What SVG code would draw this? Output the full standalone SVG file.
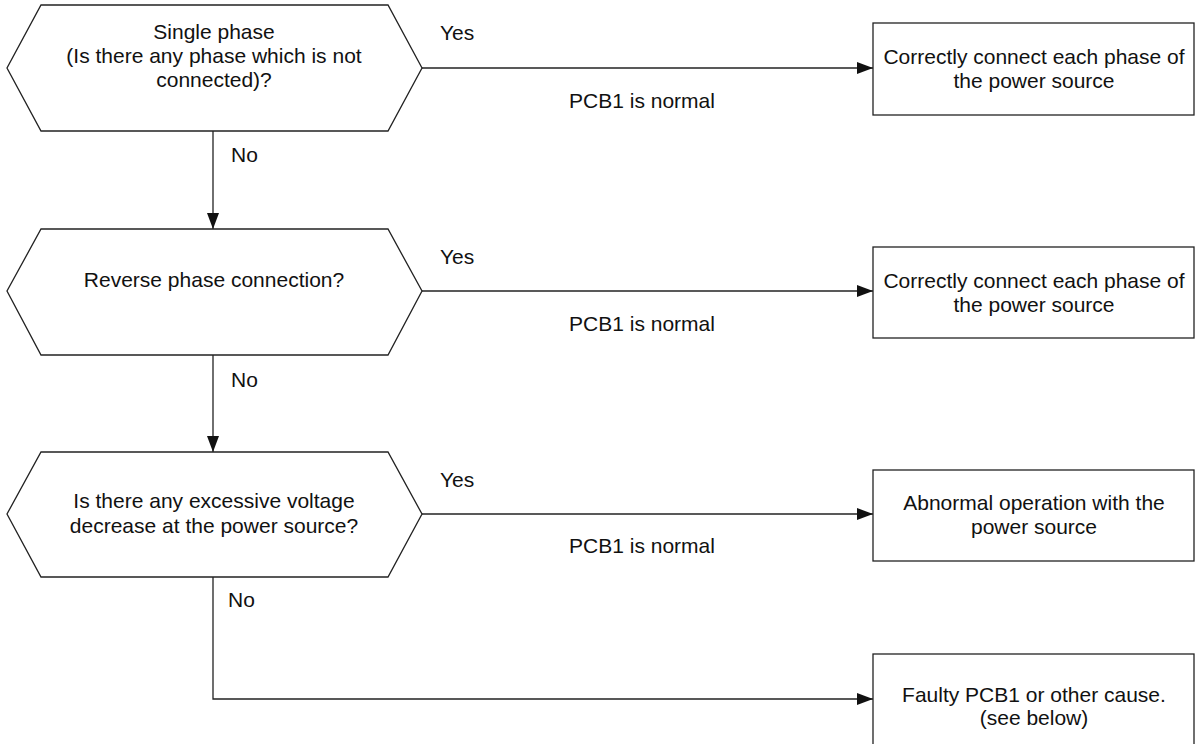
<svg xmlns="http://www.w3.org/2000/svg" width="1195" height="744" viewBox="0 0 1195 744">
  <style>
    .shape { fill: #ffffff; stroke: #222222; stroke-width: 1.3; }
    .line { fill: none; stroke: #222222; stroke-width: 1.3; }
    text { font-family: "Liberation Sans", Arial, sans-serif; font-size: 21px; fill: #111111; }
    .c { text-anchor: middle; }
  </style>
  <defs>
    <marker id="arrow" viewBox="0 0 16 12" refX="16" refY="6" markerWidth="16" markerHeight="12" markerUnits="userSpaceOnUse" orient="auto">
      <path d="M0,0 L16,6 L0,12 Z" fill="#111111"/>
    </marker>
  </defs>
  <rect width="1195" height="744" fill="#ffffff"/>

  <!-- connectors -->
  <g id="connectors">
    <line class="line" x1="422" y1="68" x2="873" y2="68" marker-end="url(#arrow)"/>
    <line class="line" x1="422" y1="291" x2="873" y2="291" marker-end="url(#arrow)"/>
    <line class="line" x1="422" y1="514" x2="873" y2="514" marker-end="url(#arrow)"/>
    <line class="line" x1="213" y1="131" x2="213" y2="229" marker-end="url(#arrow)"/>
    <line class="line" x1="213" y1="355" x2="213" y2="452" marker-end="url(#arrow)"/>
    <polyline class="line" points="213,577 213,699 873,699" marker-end="url(#arrow)"/>
    <text x="440" y="40">Yes</text>
    <text x="440" y="264">Yes</text>
    <text x="440" y="487">Yes</text>
    <text class="c" x="642" y="108">PCB1 is normal</text>
    <text class="c" x="642" y="331">PCB1 is normal</text>
    <text class="c" x="642" y="553">PCB1 is normal</text>
    <text x="231" y="162">No</text>
    <text x="231" y="387">No</text>
    <text x="228" y="607">No</text>
  </g>

  <!-- decision 1 -->
  <g id="q-single-phase">
    <polygon class="shape" points="41,5 388,5 422,68 388,131 41,131 7,68"/>
    <text class="c" x="214" y="39">Single phase</text>
    <text class="c" x="214" y="63">(Is there any phase which is not</text>
    <text class="c" x="214" y="87">connected)?</text>
  </g>

  <!-- decision 2 -->
  <g id="q-reverse-phase">
    <polygon class="shape" points="41,229 388,229 422,291 388,355 41,355 7,291"/>
    <text class="c" x="214" y="287">Reverse phase connection?</text>
  </g>

  <!-- decision 3 -->
  <g id="q-voltage-drop">
    <polygon class="shape" points="41,452 388,452 422,514 388,577 41,577 7,514"/>
    <text class="c" x="214" y="508">Is there any excessive voltage</text>
    <text class="c" x="214" y="533">decrease at the power source?</text>
  </g>

  <!-- outcomes -->
  <g id="fix-phases-1">
    <rect class="shape" x="873" y="23" width="321" height="92"/>
    <text class="c" x="1034" y="64">Correctly connect each phase of</text>
    <text class="c" x="1034" y="88">the power source</text>
  </g>

  <g id="fix-phases-2">
    <rect class="shape" x="873" y="247" width="321" height="91"/>
    <text class="c" x="1034" y="288">Correctly connect each phase of</text>
    <text class="c" x="1034" y="312">the power source</text>
  </g>

  <g id="abnormal-source">
    <rect class="shape" x="873" y="470" width="321" height="91"/>
    <text class="c" x="1034" y="510">Abnormal operation with the</text>
    <text class="c" x="1034" y="534">power source</text>
  </g>

  <g id="faulty-pcb">
    <rect class="shape" x="873" y="654" width="321" height="92"/>
    <text class="c" x="1034" y="702">Faulty PCB1 or other cause.</text>
    <text class="c" x="1034" y="725">(see below)</text>
  </g>
</svg>
